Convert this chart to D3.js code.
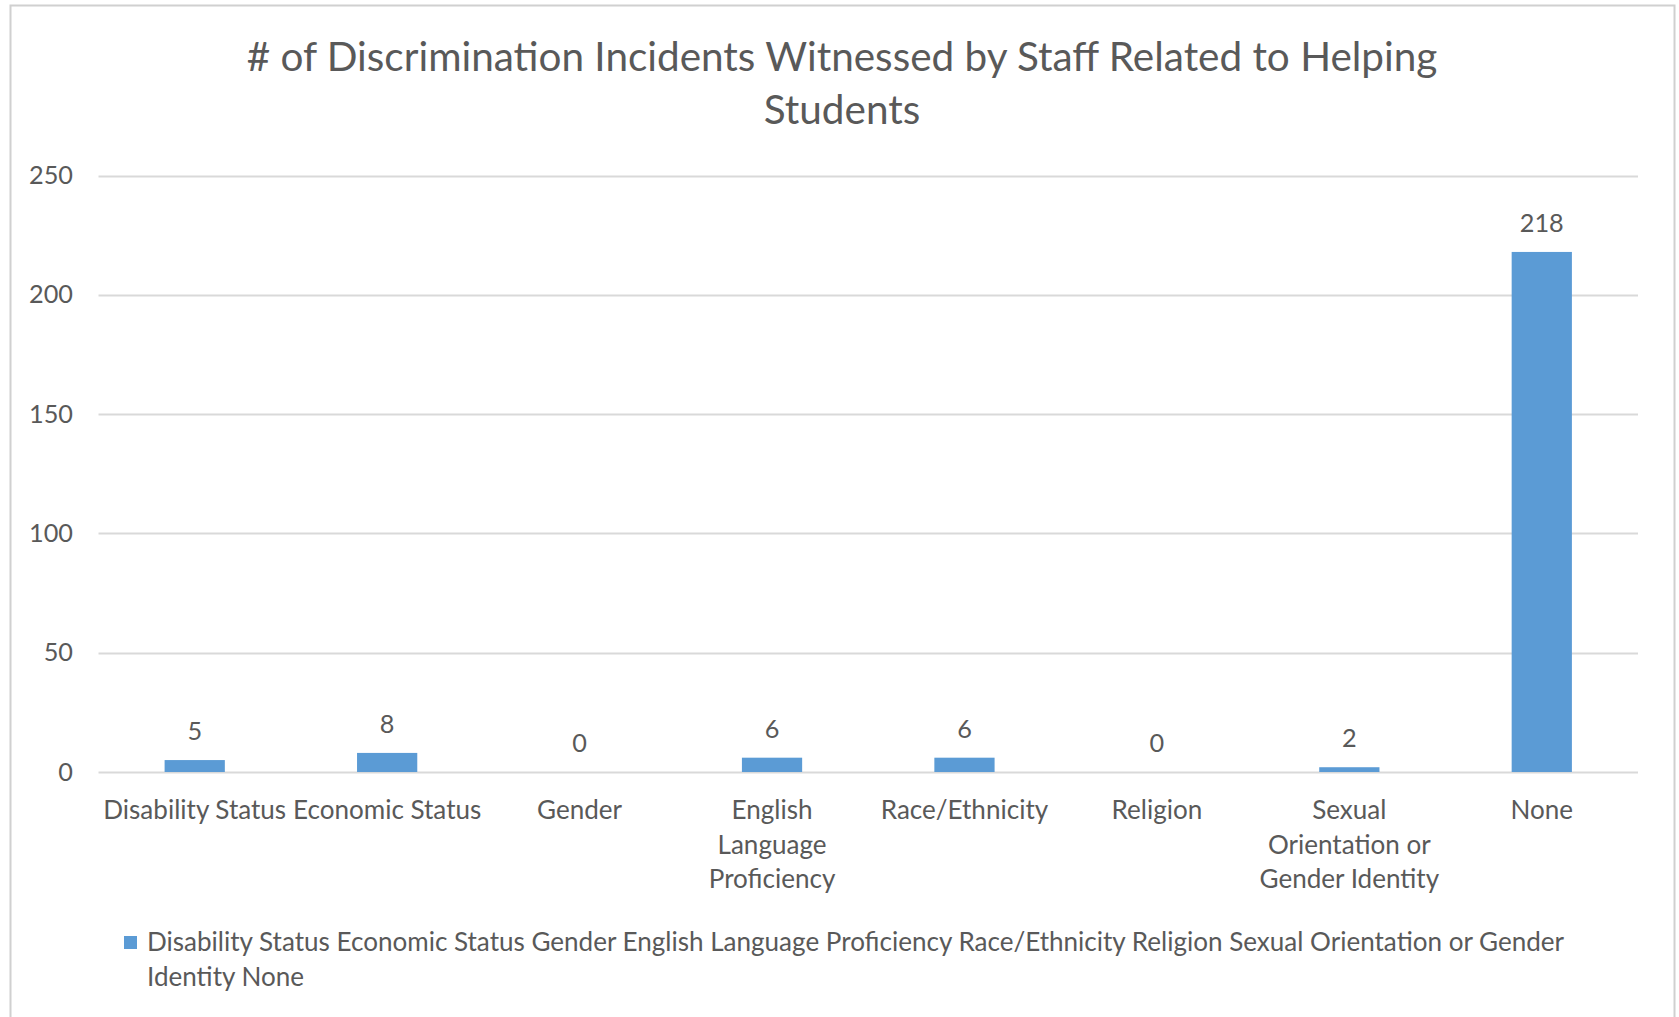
<!DOCTYPE html>
<html>
<head>
<meta charset="utf-8">
<script src="https://cdn.jsdelivr.net/npm/d3@7"></script>
<style>
  html, body { margin: 0; padding: 0; background: #ffffff; }
  svg { display: block; }
  text { font-family: "Lato", "Open Sans", sans-serif; fill: #595959; }
</style>
</head>
<body>
<svg id="chart" width="1679" height="1017"></svg>
<script>
// ---- data ----
const titleLines = ["# of Discrimination Incidents Witnessed by Staff Related to Helping", "Students"];
const categories = ["Disability Status", "Economic Status", "Gender", "English Language Proficiency",
                    "Race/Ethnicity", "Religion", "Sexual Orientation or Gender Identity", "None"];
const categoryLabelLines = [
  ["Disability Status"], ["Economic Status"], ["Gender"], ["English", "Language", "Proficiency"],
  ["Race/Ethnicity"], ["Religion"], ["Sexual", "Orientation or", "Gender Identity"], ["None"]
];
const values = [5, 8, 0, 6, 6, 0, 2, 218];
const yTicks = [0, 50, 100, 150, 200, 250];
const seriesName = categories.join(" ");

// ---- layout ----
const W = 1679, H = 1017;
const plot = { left: 98.5, right: 1638, top: 175.6, bottom: 772 };
const svg = d3.select("#chart");

// frame
svg.append("rect").attr("x", 10.5).attr("y", 5.5).attr("width", 1664).attr("height", 1040)
  .attr("fill", "#ffffff").attr("stroke", "#d0d0d0").attr("stroke-width", 2);

const x = d3.scaleBand().domain(categories).range([plot.left, plot.right])
  .paddingInner(0.687).paddingOuter(0.3435);
const y = d3.scaleLinear().domain([0, 250]).range([plot.bottom, plot.top]);

// helper: fit font size so that a string reaches a target width
function fitSize(str, target, weight) {
  const t = svg.append("text").attr("font-size", 100).attr("font-weight", weight || 400).text(str);
  const w = t.node().getComputedTextLength();
  t.remove();
  return 100 * target / w;
}
const titleSize = fitSize(titleLines[0], 1191);
const labelSize = fitSize("Disability Status", 183);
const numSize = fitSize("250", 44);

// title
svg.append("g").selectAll("text").data(titleLines).join("text")
  .attr("x", 842).attr("y", (d, i) => 57 + i * 53)
  .attr("dy", "0.35em").attr("text-anchor", "middle")
  .attr("font-size", titleSize).text(d => d);

// gridlines
svg.append("g").selectAll("line").data(yTicks).join("line")
  .attr("x1", plot.left).attr("x2", plot.right)
  .attr("y1", d => Math.round(y(d)) + 0.5).attr("y2", d => Math.round(y(d)) + 0.5)
  .attr("stroke", "#d9d9d9").attr("stroke-width", 2);

// y axis labels
const yAxis = d3.axisLeft(y).tickValues(yTicks).tickSize(0).tickPadding(0);
const gy = svg.append("g").attr("transform", `translate(73,0)`).call(yAxis);
gy.select(".domain").remove();
gy.selectAll("text").attr("font-size", numSize).attr("fill", "#595959")
  .style("font-family", '"Lato", "Open Sans", sans-serif');

// bars
svg.append("g").selectAll("rect").data(values).join("rect")
  .attr("x", (d, i) => x(categories[i]))
  .attr("width", x.bandwidth())
  .attr("y", d => y(d))
  .attr("height", d => y(0) - y(d))
  .attr("fill", "#5b9bd5");

// data labels
svg.append("g").selectAll("text").data(values).join("text")
  .attr("x", (d, i) => x(categories[i]) + x.bandwidth() / 2)
  .attr("y", d => y(d) - 29)
  .attr("dy", "0.35em").attr("text-anchor", "middle")
  .attr("font-size", numSize).text(d => d);

// x category labels
const gx = svg.append("g");
categoryLabelLines.forEach((lines, i) => {
  gx.append("text")
    .attr("x", x(categories[i]) + x.bandwidth() / 2)
    .attr("text-anchor", "middle").attr("font-size", labelSize)
    .selectAll("tspan").data(lines).join("tspan")
    .attr("x", x(categories[i]) + x.bandwidth() / 2)
    .attr("y", (d, j) => 810 + j * 34.5)
    .attr("dy", "0.35em").text(d => d);
});

// legend
const legendX = 147, legendMax = 1470;
const words = seriesName.split(" ");
const legendLines = [];
let cur = "";
const probe = svg.append("text").attr("font-size", labelSize);
words.forEach(w => {
  const test = cur ? cur + " " + w : w;
  probe.text(test);
  if (probe.node().getComputedTextLength() > legendMax && cur) { legendLines.push(cur); cur = w; }
  else cur = test;
});
legendLines.push(cur);
probe.remove();

svg.append("rect").attr("x", 124).attr("y", 936).attr("width", 13).attr("height", 13).attr("fill", "#5b9bd5");
svg.append("g").selectAll("text").data(legendLines).join("text")
  .attr("x", legendX).attr("y", (d, i) => 942 + i * 35)
  .attr("dy", "0.35em").attr("font-size", labelSize).text(d => d);
</script>
</body>
</html>
